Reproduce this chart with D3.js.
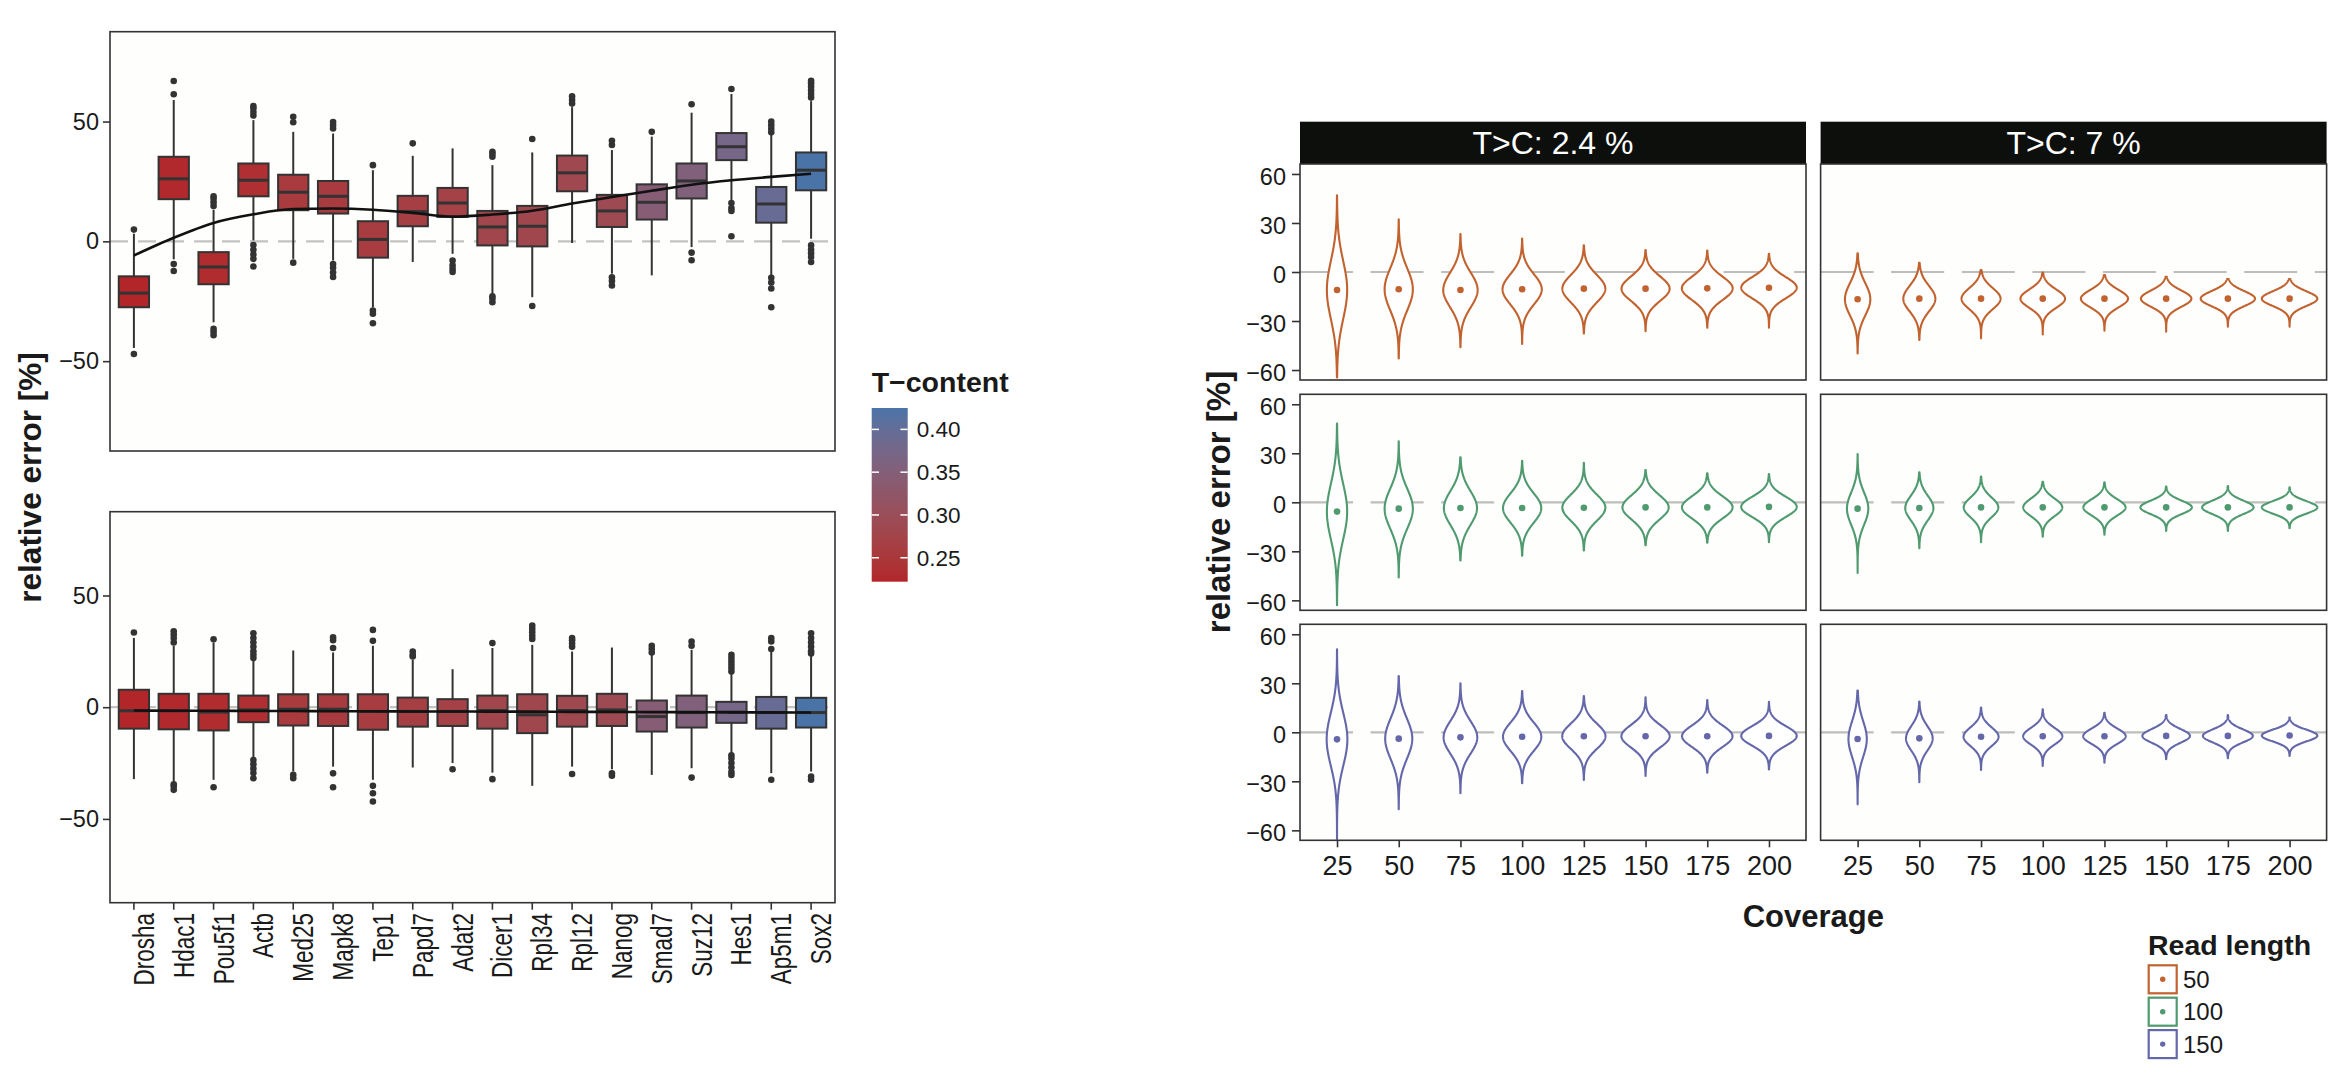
<!DOCTYPE html>
<html><head><meta charset="utf-8">
<script src="https://cdn.jsdelivr.net/npm/d3@7"></script>
<style>
body{margin:0;background:#fff;}
text{font-family:"Liberation Sans",Arial,Helvetica,sans-serif;fill:#1a1a1a;}
</style></head>
<body><svg id="c" width="2333" height="1079"></svg>
<script>
// ---------------- DATA ----------------
const genes = ["Drosha","Hdac1","Pou5f1","Actb","Med25","Mapk8","Tep1","Papd7","Adat2","Dicer1","Rpl34","Rpl12","Nanog","Smad7","Suz12","Hes1","Ap5m1","Sox2"];
const tContent = [0.222,0.226,0.230,0.235,0.255,0.257,0.260,0.265,0.270,0.280,0.282,0.285,0.290,0.345,0.355,0.375,0.395,0.425];
const tContentTicks = [0.25,0.30,0.35,0.40];

// top box panel
const topQ1  = [-27.5,17.6,-17.9,18.8,13.0,11.6,-6.8,6.3,10.2,-1.7,-2.1,20.9,6.0,9.1,17.9,33.9,7.8,21.3];
const topMed = [-21.6,26.1,-10.7,25.5,20.5,18.8,0.8,12.4,16.0,6.0,6.3,28.6,12.7,16.3,25.2,39.5,15.6,29.7];
const topQ3  = [-14.6,35.3,-4.5,32.5,27.8,25.2,8.4,19.0,22.3,12.7,14.8,35.8,19.4,23.8,32.5,45.2,22.7,37.1];
const topLo  = [-44.5,-7.5,-33.8,0.4,-7.3,-8.0,-27.5,-8.6,-5.2,-21.9,-23.3,-0.7,-13.5,-14.2,-2.4,17.2,-14.2,1.1];
const topHi  = [3.2,59.0,13.2,50.6,45.7,45.0,29.7,35.7,38.8,31.8,37.1,56.0,38.1,43.7,53.7,61.5,44.4,58.5];
const topOutliers = [
  [4.9,-47],[61.4,66.9,-9.5,-12.4],[14.8,16.3,17.8,18.8,-36.5,-37.8,-39.2],
  [52.5,54,55.5,56.5,-1.5,-3.5,-5.5,-7.3,-10.5],[49.7,52.0,-8.9],[47.1,48.5,49.8,-9.5,-11,-13,-14.9],
  [31.8,-28.9,-30.2,-34.2],[40.9],[-8.0,-10.0,-11.5,-12.8],
  [35.3,36.5,37.4,-22.9,-24,-25.4],[42.7,-27],[57.5,59,60.5],
  [40.2,42,-15,-16.5,-18.4],[45.7],[57.2,-4.7,-7.9],
  [63.6,16,13.9,12.7,2.1],[45.5,47,48.5,50,-15.2,-17.2,-19.7,-27.5],[60,61.5,63,64.5,66,67,-1.7,-3.5,-5,-6.5,-8.6]
];
const topSmooth = [-5.9,1.5,7.7,11.3,13.5,13.7,13.2,11.9,10.3,11.2,12.8,15.8,18.5,21.1,23.6,25.5,26.9,28.2];

// bottom box panel
const botQ1  = [-9.6,-9.9,-10.4,-6.7,-8.2,-8.4,-10.1,-8.7,-8.4,-9.6,-11.6,-8.7,-8.4,-10.9,-9.1,-7.0,-9.6,-9.1];
const botMed = [-1.6,-1.6,-2.2,-1.2,-0.9,-0.9,-1.9,-1.9,-1.9,-1.5,-3.4,-1.5,-1.2,-4.2,-2.4,-2.2,-2.4,-2.4];
const botQ3  = [7.8,6.0,6.0,5.2,5.8,5.8,5.8,4.3,3.6,5.2,5.8,5.1,6.0,3.0,5.2,2.4,4.6,4.2];
const botLo  = [-32.2,-33.3,-32.5,-22.8,-28.8,-26.6,-32.5,-27.0,-25.0,-29.3,-35.2,-26.6,-27.8,-30.3,-27.3,-20.6,-29.5,-28.8];
const botHi  = [31.0,27.5,29.0,21.2,25.4,24.5,27.5,21.2,17.0,26.5,27.9,24.9,26.7,23.4,25.7,15.2,24.9,23.4];
const botOutliers = [
  [33.4],[29,31,32.5,34,-34.5,-35.5,-37],[30.4,-35.8],
  [22,23.5,25,27,29,31,33.1,-23.6,-25.5,-27.5,-29.5,-31.8],[-30.3,-31.8],[26.5,30,31.3,-29.6,-35.8],
  [29.7,34.6,-35.2,-38.5,-42.2],[22.7,23.5,24.9],[-27.8],
  [28.7,-32.2],[30.5,32,33.5,35,36.5],[27,28.5,30,31,-29.9],
  [-29.6,-30.7],[24.5,26,27.5],[27.5,29.4,-31.5],
  [16,17.5,19,20.5,22,23.5,-21.5,-23,-25,-27,-29,-30.3],[26,29.4,30.9,-32.5],[24,25,27,29,31,33.1,-31,-32.5]
];
const botSmooth = [-1.5,-1.6,-1.6,-1.7,-1.7,-1.8,-1.8,-1.9,-1.9,-2.0,-2.0,-2.1,-2.1,-2.2,-2.2,-2.3,-2.3,-2.4];

// violin panels
const coverage = [25,50,75,100,125,150,175,200];
const tcRates = ["T>C: 2.4 %","T>C: 7 %"];
const readLengths = [50,100,150];
const yTicksRight = [-60,-30,0,30,60];
// [readLength][tcRate][coverage]
const violinMean = [
  [[-11.0,-10.6,-11.0,-10.6,-10.2,-10.2,-10.0,-9.6],[-16.7,-16.3,-16.3,-16.3,-16.3,-16.3,-16.3,-16.3]],
  [[-5.7,-3.9,-3.5,-3.5,-3.3,-3.1,-3.1,-2.8],[-3.9,-3.5,-3.1,-3.1,-3.1,-3.1,-3.1,-3.1]],
  [[-4.3,-3.9,-3.1,-2.7,-2.4,-2.4,-2.4,-2.2],[-4.1,-3.7,-2.7,-2.4,-2.4,-2.2,-2.2,-2.0]]
];
const violinSd = [
  [[17.8,12.8,10.5,9.2,8.4,7.5,7.1,6.5],[9.85,7.8,6.4,5.6,5.3,4.95,4.6,4.5]],
  [[17.0,12.2,10.4,9.0,8.0,7.45,6.8,6.2],[9.9,7.5,6.1,5.4,5.0,4.1,4.1,3.8]],
  [[16.1,12.3,9.9,8.7,7.7,6.9,6.6,6.0],[10.9,7.5,5.7,5.1,4.7,4.2,4.0,3.6]]
];
const violinMin = [
  [[-64.5,-52.9,-46.1,-44.1,-37.6,-36.3,-34.1,-34.1],[-49.8,-41.6,-40.6,-38.2,-35.9,-36.5,-33.5,-33.5]],
  [[-63.0,-46.0,-35.6,-32.7,-29.5,-26.2,-24.8,-24.4],[-43.3,-28.1,-24.4,-21.0,-19.9,-17.5,-17.5,-15.9]],
  [[-65.3,-47.1,-37.3,-31.2,-29.2,-26.7,-24.7,-22.7],[-44.1,-30.6,-23.1,-20.6,-18.6,-16.5,-15.9,-14.5]]
];
const violinMax = [
  [[46.9,32.2,23.3,20.4,16.3,13.5,13.1,11.2],[11.4,5.7,1.2,-0.4,-1.8,-2.9,-4.3,-4.3]],
  [[48.2,37.4,27.5,25.4,24.2,19.7,17.7,17.3],[29.5,18.3,15.7,12.6,12.2,9.6,10.0,9.2]],
  [[50.8,34.5,30.0,25.3,22.2,21.4,19.8,18.6],[25.5,18.8,15.1,14.1,12.0,10.6,10.6,9.0]]
];

// ---------------- STYLE ----------------
const FRAME = "#333333", PANELBG = "#fefefc";
const readColors = ["#C1622F","#4F9A6E","#6467A9"];
const svg = d3.select("#c");

// ---------------- LEFT: BOX PANELS ----------------
const fillScale = d3.scaleLinear().domain(d3.extent(tContent)).range(["#B2262A","#4A74A8"]).interpolate(d3.interpolateLab);
const xGene = d3.scalePoint().domain(genes).range([110,835]).padding(0.6);

function boxPanel(top, bottom, q1, med, q3, lo, hi, outl, smooth, showX){
  const y = d3.scaleLinear().domain([-87.5,87.5]).range([bottom, top]);
  const g = svg.append("g");
  g.append("rect").attr("x",110).attr("y",top).attr("width",725).attr("height",bottom-top).attr("fill",PANELBG);
  g.append("line").attr("x1",110).attr("x2",835).attr("y1",y(0)).attr("y2",y(0))
    .attr("stroke","#c2c2c2").attr("stroke-width",2.2).attr("stroke-dasharray","18 10");
  const bw = xGene.step()*0.76;
  genes.forEach((gn,i)=>{
    const cx = xGene(gn);
    const bg = g.append("g");
    bg.append("line").attr("x1",cx).attr("x2",cx).attr("y1",y(q3[i])).attr("y2",y(hi[i])).attr("stroke",FRAME).attr("stroke-width",2);
    bg.append("line").attr("x1",cx).attr("x2",cx).attr("y1",y(q1[i])).attr("y2",y(lo[i])).attr("stroke",FRAME).attr("stroke-width",2);
    bg.append("rect").attr("x",cx-bw/2).attr("width",bw).attr("y",y(q3[i])).attr("height",y(q1[i])-y(q3[i]))
      .attr("fill",fillScale(tContent[i])).attr("stroke",FRAME).attr("stroke-width",2);
    bg.append("line").attr("x1",cx-bw/2).attr("x2",cx+bw/2).attr("y1",y(med[i])).attr("y2",y(med[i])).attr("stroke",FRAME).attr("stroke-width",3);
    outl[i].forEach(v=>bg.append("circle").attr("cx",cx).attr("cy",y(v)).attr("r",3.3).attr("fill",FRAME));
  });
  const line = d3.line().x((d,i)=>xGene(genes[i])).y(d=>y(d)).curve(d3.curveMonotoneX);
  g.append("path").attr("d",line(smooth)).attr("fill","none").attr("stroke","#111").attr("stroke-width",2.6);
  g.append("rect").attr("x",110).attr("y",top).attr("width",725).attr("height",bottom-top).attr("fill","none").attr("stroke",FRAME).attr("stroke-width",1.6);
  const ax = g.append("g").attr("transform","translate(110,0)")
    .call(d3.axisLeft(y).tickValues([-50,0,50]).tickSize(7).tickPadding(4));
  ax.select(".domain").remove();
  ax.selectAll(".tick line").attr("stroke",FRAME).attr("stroke-width",1.6);
  ax.selectAll(".tick text").attr("font-size",23.5).attr("fill","#1a1a1a").attr("font-family","Liberation Sans, Arial, sans-serif");
  if(showX){
    genes.forEach(gn=>{
      const cx = xGene(gn);
      g.append("line").attr("x1",cx).attr("x2",cx).attr("y1",bottom).attr("y2",bottom+7).attr("stroke",FRAME).attr("stroke-width",1.6);
      g.append("text").attr("transform",`translate(${cx+20},913) rotate(-90) scale(1,1.3)`)
        .attr("text-anchor","end").attr("font-size",22.5).text(gn);
    });
  }
}
boxPanel(31.7, 451, topQ1, topMed, topQ3, topLo, topHi, topOutliers, topSmooth, false);
boxPanel(511.7, 902.7, botQ1, botMed, botQ3, botLo, botHi, botOutliers, botSmooth, true);

svg.append("text").attr("transform","translate(41,477.5) rotate(-90)").attr("text-anchor","middle")
  .attr("font-size",31.5).attr("font-weight","bold").text("relative error [%]");

// T-content legend
(function(){
  const ext = d3.extent(tContent);
  const ly = d3.scaleLinear().domain(ext).range([581.7,408]);
  const defs = svg.append("defs");
  const grad = defs.append("linearGradient").attr("id","tgrad").attr("x1",0).attr("x2",0).attr("y1",1).attr("y2",0);
  d3.range(0,11).forEach(i=>{
    const v = ext[0]+(ext[1]-ext[0])*i/10;
    grad.append("stop").attr("offset",(i*10)+"%").attr("stop-color",fillScale(v));
  });
  svg.append("text").attr("x",871.7).attr("y",391.7).attr("font-size",28.5).attr("font-weight","bold").text("T\u2212content");
  svg.append("rect").attr("x",871.7).attr("y",408).attr("width",36).attr("height",173.7).attr("fill","url(#tgrad)");
  tContentTicks.forEach(t=>{
    const yy = ly(t);
    svg.append("line").attr("x1",871.7).attr("x2",879).attr("y1",yy).attr("y2",yy).attr("stroke","#fff").attr("stroke-width",1.5);
    svg.append("line").attr("x1",900.4).attr("x2",907.7).attr("y1",yy).attr("y2",yy).attr("stroke","#fff").attr("stroke-width",1.5);
    svg.append("text").attr("x",916.7).attr("y",yy).attr("dy","0.36em").attr("font-size",22.5).text(d3.format(".2f")(t));
  });
})();

// ---------------- RIGHT: VIOLIN PANELS ----------------
const panelW = 506, panelH = 216;
const colLeft = [1300, 1820.6];
const rowTop = [164, 394.3, 624.3];

tcRates.forEach((rate,c)=>{
  const left = colLeft[c];
  svg.append("rect").attr("x",left).attr("y",121.7).attr("width",panelW).attr("height",42.3).attr("fill","#0d0f0d");
  svg.append("text").attr("x",left+panelW/2).attr("y",154).attr("text-anchor","middle").attr("font-size",32)
    .style("fill","#ffffff").text(rate);
});

readLengths.forEach((rl,r)=>{
  tcRates.forEach((rate,c)=>{
    const left = colLeft[c], top = rowTop[r];
    const x = d3.scalePoint().domain(coverage).range([left,left+panelW]).padding(0.6);
    const y = d3.scaleLinear().domain([-66.1,66.1]).range([top+panelH, top]);
    const g = svg.append("g");
    g.append("rect").attr("x",left).attr("y",top).attr("width",panelW).attr("height",panelH).attr("fill",PANELBG);
    g.append("line").attr("x1",left).attr("x2",left+panelW).attr("y1",y(0)).attr("y2",y(0))
      .attr("stroke","#bdbdbd").attr("stroke-width",2.2).attr("stroke-dasharray","53 17.6");
    const means = violinMean[r][c], sds = violinSd[r][c], mins = violinMin[r][c], maxs = violinMax[r][c];
    const sdMin = d3.min(sds);
    const col = readColors[r];
    coverage.forEach((cv,k)=>{
      const cx = x(cv), m = means[k], s = sds[k];
      const half = x.step()*0.45*(sdMin/s);
      const vals = d3.range(0,161).map(i=>mins[k]+(maxs[k]-mins[k])*i/160);
      const dens = v=>half*Math.exp(-0.5*((v-m)/s)*((v-m)/s));
      const area = d3.area().y(v=>y(v)).x0(v=>cx-dens(v)).x1(v=>cx+dens(v));
      g.append("path").attr("d",area(vals)).attr("fill","#ffffff").attr("stroke",col).attr("stroke-width",2.1).attr("stroke-linejoin","round");
      g.append("circle").attr("cx",cx).attr("cy",y(m)).attr("r",3.3).attr("fill",col);
    });
    g.append("rect").attr("x",left).attr("y",top).attr("width",panelW).attr("height",panelH).attr("fill","none").attr("stroke",FRAME).attr("stroke-width",1.6);
    if(c===0){
      const ax = g.append("g").attr("transform",`translate(${left},0)`)
        .call(d3.axisLeft(y).tickValues(yTicksRight).tickSize(8).tickPadding(6));
      ax.select(".domain").remove();
      ax.selectAll(".tick line").attr("stroke",FRAME).attr("stroke-width",1.6);
      ax.selectAll(".tick text").attr("font-size",23.5).attr("fill","#1a1a1a").attr("dy","0.45em").attr("font-family","Liberation Sans, Arial, sans-serif");
    }
    if(r===2){
      const ax = g.append("g").attr("transform",`translate(0,${top+panelH})`)
        .call(d3.axisBottom(x).tickSize(7).tickPadding(9));
      ax.select(".domain").remove();
      ax.selectAll(".tick line").attr("stroke",FRAME).attr("stroke-width",1.6);
      ax.selectAll(".tick text").attr("font-size",27).attr("fill","#1a1a1a").attr("font-family","Liberation Sans, Arial, sans-serif");
    }
  });
});

svg.append("text").attr("x",(colLeft[0]+colLeft[1]+panelW)/2).attr("y",927).attr("text-anchor","middle")
  .attr("font-size",31).attr("font-weight","bold").text("Coverage");
svg.append("text").attr("transform","translate(1230,502) rotate(-90)").attr("text-anchor","middle")
  .attr("font-size",33).attr("font-weight","bold").text("relative error [%]");

// Read length legend
svg.append("text").attr("x",2148).attr("y",955).attr("font-size",28.5).attr("font-weight","bold").text("Read length");
readLengths.forEach((rl,i)=>{
  const ky = 964.3 + i*32.4;
  svg.append("rect").attr("x",2148.7).attr("y",ky+1).attr("width",28).attr("height",28).attr("fill","#fff").attr("stroke",readColors[i]).attr("stroke-width",2.2);
  svg.append("circle").attr("cx",2162.7).attr("cy",ky+15).attr("r",2.7).attr("fill",readColors[i]);
  svg.append("text").attr("x",2183).attr("y",ky+15).attr("dy","0.36em").attr("font-size",24).text(rl);
});
</script>
</body></html>
